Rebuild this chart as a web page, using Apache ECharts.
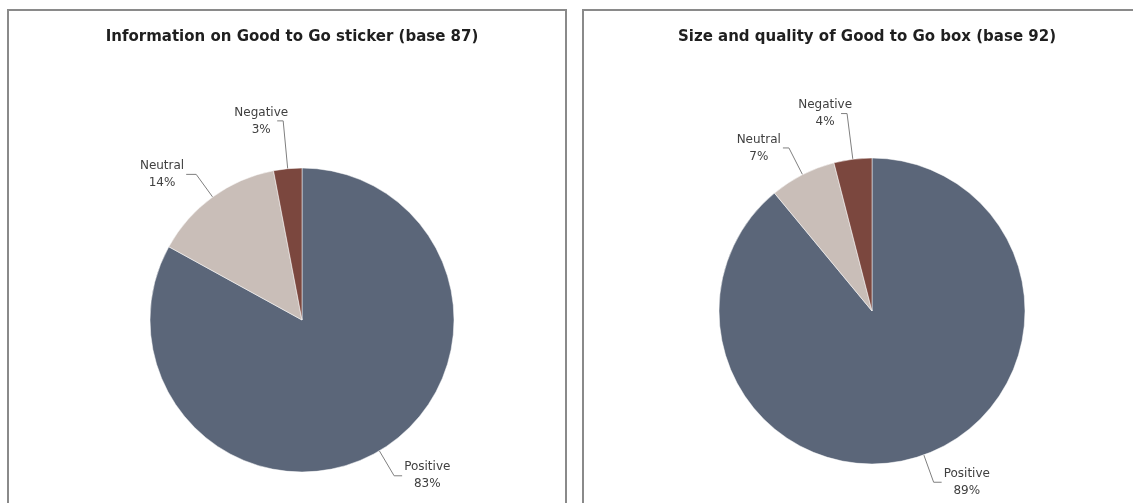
<!DOCTYPE html>
<html><head><meta charset="utf-8">
<script src="https://cdn.jsdelivr.net/npm/echarts@6/dist/echarts.min.js"></script>
<style>html,body{margin:0;padding:0;background:#fff}#c{width:1133px;height:503px}</style>
</head><body><div id="c"></div>
<script>
const categories = ['Positive', 'Neutral', 'Negative'];
const stickerValues = [83, 14, 3];
const boxValues = [89, 7, 4];
const titles = ['Information on Good to Go sticker (base 87)', 'Size and quality of Good to Go box (base 92)'];

const colors = ['#5B6679', '#C9BEB8', '#7B473E'];
const lineLens = [
  [[29, 8], [28, 10], [48, 6]],
  [[29, 8], [30, 6], [46, 6]]
];
const labelShift = [[0, 0, 13], [0, 0, 13]];

function mkData(vals, li) {
  return vals.map((v, i) => ({
    name: categories[i], value: v,
    itemStyle: { color: colors[i] },
    labelLine: { length: lineLens[li][i][0], length2: lineLens[li][i][1] }
  }));
}

const chart = echarts.init(document.getElementById('c'), null, { renderer: 'canvas' });
const labelCfg = {
  show: true, position: 'outside',
  formatter: '{a|{b}}\n{a|{c}%}',
  color: '#404040', fontFamily: 'DejaVu Sans', fontSize: 12,
  distanceToLabelLine: 2,
  rich: { a: { align: 'center', color: '#404040', fontFamily: 'DejaVu Sans', fontSize: 12, lineHeight: 17 } }
};
const lineCfg = { show: true, lineStyle: { color: '#7f7f7f', width: 1 } };
const titleStyle = { fontFamily: 'DejaVu Sans', fontWeight: 'bold', fontSize: 15, color: '#1f1f1f' };
function layoutFor(si) {
  return function (p) { const d = labelShift[si][p.dataIndex]; return d ? { dx: d } : {}; };
}
chart.setOption({
  animation: false,
  graphic: [
    { type: 'rect', shape: { x: 8, y: 10, width: 558, height: 520 }, style: { fill: 'none', stroke: '#8a8a8a', lineWidth: 2 } },
    { type: 'rect', shape: { x: 583, y: 10, width: 580, height: 520 }, style: { fill: 'none', stroke: '#8a8a8a', lineWidth: 2 } }
  ],
  title: [
    { text: titles[0], left: 287, top: 25, textAlign: 'center', textStyle: titleStyle },
    { text: titles[1], left: 862, top: 25, textAlign: 'center', textStyle: titleStyle }
  ],
  series: [
    { type: 'pie', center: [302, 320], radius: 152, startAngle: 90, clockwise: true,
      itemStyle: { borderColor: '#fff', borderWidth: 0.5 },
      label: labelCfg, labelLine: lineCfg, emphasis: { disabled: true },
      labelLayout: layoutFor(0),
      data: mkData(stickerValues, 0) },
    { type: 'pie', center: [872, 311], radius: 153, startAngle: 90, clockwise: true,
      itemStyle: { borderColor: '#fff', borderWidth: 0.5 },
      label: labelCfg, labelLine: lineCfg, emphasis: { disabled: true },
      labelLayout: layoutFor(1),
      data: mkData(boxValues, 1) }
  ]
});
</script></body></html>
